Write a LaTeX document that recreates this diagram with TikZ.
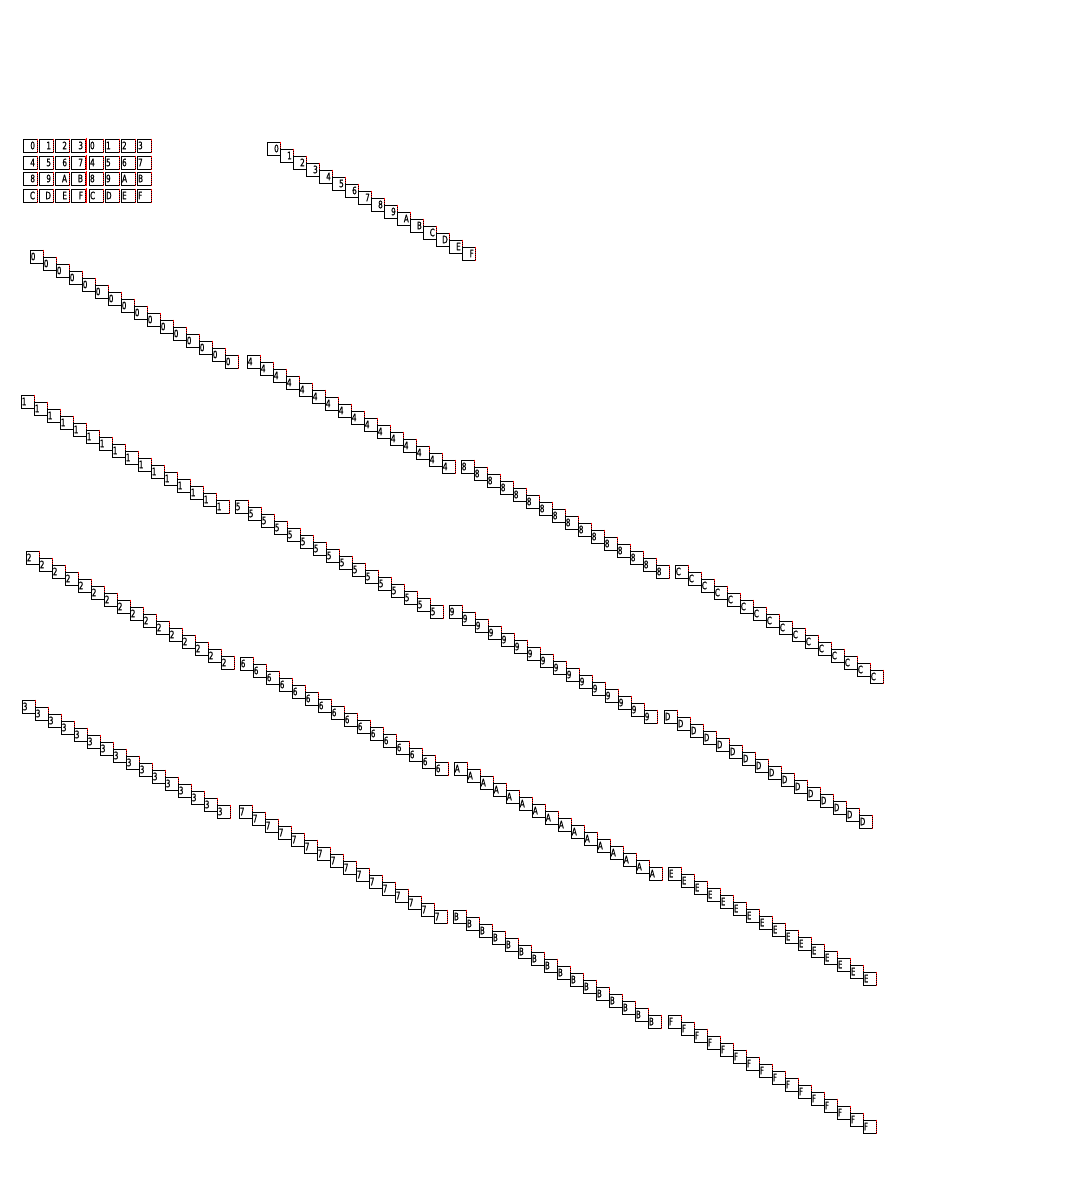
\documentclass[tikz,border=0pt]{standalone}
\usepackage{fontspec}
\newfontfamily\digitfont[FakeStretch=0.7,FakeBold=0.8]{DejaVu Sans}
\tikzset{
  cell/.style={draw=black, fill=white, line width=0.75pt, inner sep=0pt,
    minimum width=9.75pt, minimum height=9.75pt, anchor=north west},
  gcell/.style={cell, minimum width=10.5pt},
  redge/.style={draw=red, line width=0.75pt, dash pattern=on 0.75pt off 0.75pt, dash phase=0.375pt},
  digit/.style={inner sep=0pt, font=\digitfont\fontsize{7.7pt}{8pt}\selectfont},
  divider/.style={draw=red, line width=0.9pt}
}
\begin{document}
\begin{tikzpicture}[x=0.75pt, y=-0.75pt]
\fill[white] (0,0) rectangle (1086,1188);
\useasboundingbox (0,0) rectangle (1086,1188);

% ---- grid at top left ----
\foreach \r/\ga/\gb/\gc/\gd/\ry in {0/0/1/2/3/138.5, 1/4/5/6/7/155.5, 2/8/9/A/B/171.5, 3/C/D/E/F/188.5} {
  \foreach \col/\g in {0/\ga, 1/\gb, 2/\gc, 3/\gd} {
    \node[gcell] (gl\r-\col) at (22.5+16*\col, \ry) {};
    \draw[redge] (gl\r-\col.north east) -- (gl\r-\col.south east);
    \node[digit, anchor=east] (gtl\r-\col) at ([xshift=-1.7pt]gl\r-\col.east) {\g};
    \node[gcell] (gr\r-\col) at (88.5+16*\col, \ry) {};
    \draw[redge] (gr\r-\col.north east) -- (gr\r-\col.south east);
    \node[digit, anchor=west] (gtr\r-\col) at ([xshift=1.0pt]gr\r-\col.west) {\g};
  }
  \coordinate (dv\r a) at (86.5, \ry-1);
  \coordinate (dv\r b) at (86.5, \ry+14);
  \draw[divider] (dv\r a) -- (dv\r b);
}

% ---- single diagonal chain at top ----
\foreach \d [count=\i from 0] in {0,1,2,3,4,5,6,7,8,9,A,B,C,D,E,F} {
  \node[cell] (t\i) at (266.5+13*\i, 141.5+7*\i) {};
  \draw[redge] (t\i.north east) -- (t\i.south east);
  \node[digit, anchor=east] (tt\i) at ([xshift=-1.1pt]t\i.east) {\d};
}

% ---- sixteen chains ----
\foreach \d/\sx/\sy [count=\k] in {
  0/29.5/249.5, 4/246.5/354.5, 8/460.5/459.5, C/674.5/564.5,
  1/20.5/394.5, 5/234.5/499.5, 9/448.5/604.5, D/663.5/709.5,
  2/25.5/550.5, 6/239.5/656.5, A/453.5/761.5, E/667.5/866.5,
  3/21.5/699.5, 7/238.5/804.5, B/452.5/909.5, F/667.5/1014.5} {
  \foreach \i in {0,...,15} {
    \node[cell] (c\k-\i) at (\sx+13*\i, \sy+7*\i) {};
    \draw[redge] (c\k-\i.north east) -- (c\k-\i.south east);
    \node[digit, anchor=west] (ct\k-\i) at ([xshift=0.8pt]c\k-\i.west) {\d};
  }
}
\end{tikzpicture}
\end{document}
